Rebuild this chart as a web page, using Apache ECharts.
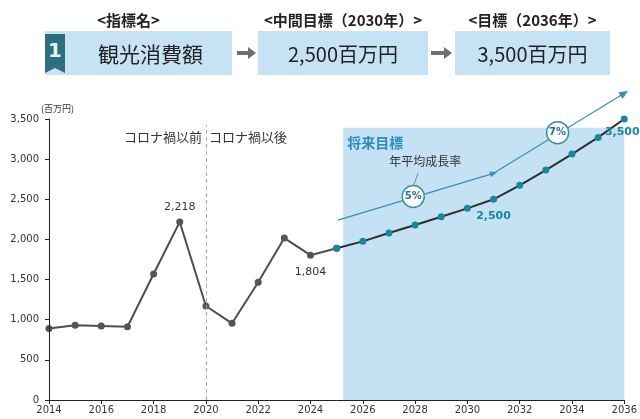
<!DOCTYPE html>
<html><head><meta charset="utf-8">
<script src="https://cdn.jsdelivr.net/npm/echarts@6/dist/echarts.min.js"></script>
<style>html,body{margin:0;padding:0;background:#fff}#c{width:640px;height:419px}</style>
</head><body><div id="c"></div>
<script>
// ---- data ----
const headerLabels = ['<指標名>', '<中間目標（2030年）>', '<目標（2036年）>'];
const headerValues = ['観光消費額', '2,500百万円', '3,500百万円'];
const headerNumber = '1';

const actualYears  = [2014, 2015, 2016, 2017, 2018, 2019, 2020, 2021, 2022, 2023, 2024, 2025];
const actualValues = [890, 930, 921, 913, 1569, 2218, 1171, 955, 1466, 2017, 1804, 1889];
const actualLabeled = [2019, 2024];

const targetYears  = [2025, 2026, 2027, 2028, 2029, 2030, 2031, 2032, 2033, 2034, 2035, 2036];
const targetValues = [1889, 1976, 2080, 2179, 2283, 2387, 2500, 2674, 2864, 3063, 3271, 3500];
const targetLabeled = [2031, 2036];

const growthYears  = [2025.05, 2031, 2036];
const growthValues = [2241, 2823, 3820];
const rateTexts  = ['5%', '7%'];
const rateYears  = [2027.93, 2033.45];
const rateValues = [2535, 3330];

const futureSpan = [2025.25, 2036, 3390];   // shaded 将来目標 area (x from, x to, top)
const coronaYear = 2020;
const coronaTexts = ['コロナ禍以前', 'コロナ禍以後'];
const futureText = '将来目標';
const rateCaption = '年平均成長率';
const yUnit = '(百万円)';

// ---- chart ----
const fmt = v => Number(v).toLocaleString('en-US');
const CJK = '"Noto Sans CJK JP", "Noto Sans", sans-serif';
const NUM = '"DejaVu Sans", Verdana, sans-serif';
const teal = '#17899a';
const lineBlue = '#3a8fb5';

const chart = echarts.init(document.getElementById('c'), null, {renderer: 'canvas'});

// header graphics
const boxes = [[45, 187], [258, 170], [455, 155]];
const graphic = [];
boxes.forEach((b, i) => {
  graphic.push({type: 'rect', shape: {x: b[0], y: 31, width: b[1], height: 44}, style: {fill: '#c6e2f5'}, z: 1});
  graphic.push({type: 'text', x: b[0] + b[1] / 2 + (i === 0 ? -10 : 0) , y: 20,
    style: {text: headerLabels[i], font: 'bold 15px ' + CJK, fill: '#222', textAlign: 'center', textVerticalAlign: 'middle'}, z: 2});
  graphic.push({type: 'text', x: b[0] + b[1] / 2 + (i === 0 ? 12 : 0), y: 54,
    style: {text: headerValues[i], font: (i === 0 ? '21px ' : '20px ') + CJK, fill: '#222', textAlign: 'center', textVerticalAlign: 'middle'}, z: 2});
});
graphic.push({type: 'polygon', shape: {points: [[45, 34], [65, 34], [65, 73], [55, 68], [45, 73]]}, style: {fill: '#2d6e80'}, z: 3});
graphic.push({type: 'text', x: 55, y: 52, style: {text: headerNumber, font: 'bold 20px ' + NUM, fill: '#e8f2f5', textAlign: 'center', textVerticalAlign: 'middle'}, z: 4});
[[237, 256], [431, 452]].forEach(a => {
  graphic.push({type: 'polygon', shape: {points: [[a[0], 51], [a[1] - 8, 51], [a[1] - 8, 47], [a[1], 53], [a[1] - 8, 59], [a[1] - 8, 55], [a[0], 55]]}, style: {fill: '#6f6f6f'}, z: 2});
});

const actualData = actualYears.map((y, i) => {
  const d = {value: [y, actualValues[i]]};
  if (actualLabeled.includes(y)) {
    d.label = {show: true, position: y === 2019 ? 'top' : 'bottom', distance: y === 2019 ? 6 : 8,
      formatter: p => fmt(p.value[1]), fontFamily: NUM, fontSize: 11, color: '#333'};
  }
  return d;
});
const targetData = targetYears.map((y, i) => {
  const d = {value: [y, targetValues[i]]};
  if (targetLabeled.includes(y)) {
    d.label = {show: true, position: 'bottom', distance: y === 2036 ? 4 : 8, offset: y === 2036 ? [-2, 0] : [0, 0],
      formatter: p => fmt(p.value[1]), fontFamily: NUM, fontSize: 11, fontWeight: 'bold', color: teal};
  }
  return d;
});
const growthData = growthYears.map((y, i) => {
  const d = {value: [y, growthValues[i]]};
  if (i === 1) { d.symbol = 'triangle'; d.symbolSize = [6, 7]; d.symbolRotate = -73; }
  else if (i === growthYears.length - 1) { d.symbol = 'triangle'; d.symbolSize = [8, 9]; d.symbolRotate = -59; }
  else { d.symbol = 'none'; }
  return d;
});

const option = {
  animation: false,
  backgroundColor: '#fff',
  graphic: graphic,
  grid: {left: 49, right: 15, top: 119, bottom: 19, containLabel: false},
  xAxis: {
    type: 'value', min: 2014, max: 2036, interval: 2, z: 10,
    axisLine: {lineStyle: {color: '#222', width: 1}},
    axisTick: {show: true, length: 4, lineStyle: {color: '#222'}},
    axisLabel: {formatter: v => String(v), fontFamily: NUM, fontSize: 10, color: '#333', margin: 5},
    splitLine: {show: false}
  },
  yAxis: {
    type: 'value', min: 0, max: 3500, interval: 500, z: 10,
    name: yUnit, nameLocation: 'end', nameGap: 6,
    nameTextStyle: {fontFamily: CJK, fontSize: 9, color: '#333', align: 'left', padding: [0, 0, 0, -8]},
    axisLine: {show: true, lineStyle: {color: '#222', width: 1}},
    axisTick: {show: true, length: 4, lineStyle: {color: '#222'}},
    axisLabel: {formatter: v => fmt(v), fontFamily: NUM, fontSize: 10, color: '#333', margin: 10},
    splitLine: {show: false}
  },
  series: [
    {
      name: 'area', type: 'line', data: [], z: 1, silent: true,
      markArea: {
        silent: true,
        itemStyle: {color: '#c5e1f4'},
        label: {show: false},
        data: [[{xAxis: futureSpan[0], yAxis: 0}, {xAxis: futureSpan[1], yAxis: futureSpan[2]}]]
      },
      markLine: {
        silent: true, symbol: 'none', label: {show: false},
        lineStyle: {type: [4, 3], color: '#aaa', width: 1},
        data: [[{coord: [coronaYear, 0]}, {coord: [coronaYear, 3420]}]]
      },
      markPoint: {
        silent: true, symbol: 'circle', symbolSize: 0,
        data: [
          {coord: [coronaYear, 3275], label: {show: true, position: 'left', distance: 4, formatter: coronaTexts[0], fontFamily: CJK, fontSize: 13, color: '#333'}},
          {coord: [coronaYear, 3275], label: {show: true, position: 'right', distance: 3, formatter: coronaTexts[1], fontFamily: CJK, fontSize: 13, color: '#333'}},
          {coord: [futureSpan[0], 3200], label: {show: true, position: 'right', distance: 4, formatter: futureText, fontFamily: CJK, fontSize: 14, fontWeight: 'bold', color: '#2a8bbd'}}
        ]
      }
    },
    {
      name: 'growth', type: 'line', z: 3, clip: false,
      data: growthData, symbolKeepAspect: true,
      lineStyle: {color: lineBlue, width: 1.2}, itemStyle: {color: lineBlue},
      markLine: {
        silent: true, symbol: 'none', label: {show: false},
        lineStyle: {type: 'solid', color: '#888', width: 1},
        data: [[{coord: [2028.12, 2831]}, {coord: [2027.93, 2660]}]]
      },
      markPoint: {
        silent: true,
        data: rateTexts.map((t, i) => ({
          coord: [rateYears[i], rateValues[i]], symbol: 'circle', symbolSize: 22,
          itemStyle: {color: '#fff', borderColor: '#3b8ea8', borderWidth: 1.5},
          label: {show: true, position: 'inside', formatter: t, fontFamily: NUM, fontSize: 10, fontWeight: 'bold', color: '#2b7084'}
        })).concat([{
          coord: [2028.39, 2968], symbol: 'circle', symbolSize: 0,
          label: {show: true, position: 'inside', formatter: rateCaption, fontFamily: CJK, fontSize: 12, color: '#333'}
        }])
      }
    },
    {
      name: 'actual', type: 'line', z: 4, clip: false,
      data: actualData, symbol: 'circle', symbolSize: 7,
      lineStyle: {color: '#4d4d4d', width: 2}, itemStyle: {color: '#555'}
    },
    {
      name: 'target', type: 'line', z: 5, clip: false,
      data: targetData, symbol: 'circle', symbolSize: 7,
      lineStyle: {color: '#2e2e2e', width: 2}, itemStyle: {color: teal}
    }
  ]
};
chart.setOption(option);
</script>
</body></html>
